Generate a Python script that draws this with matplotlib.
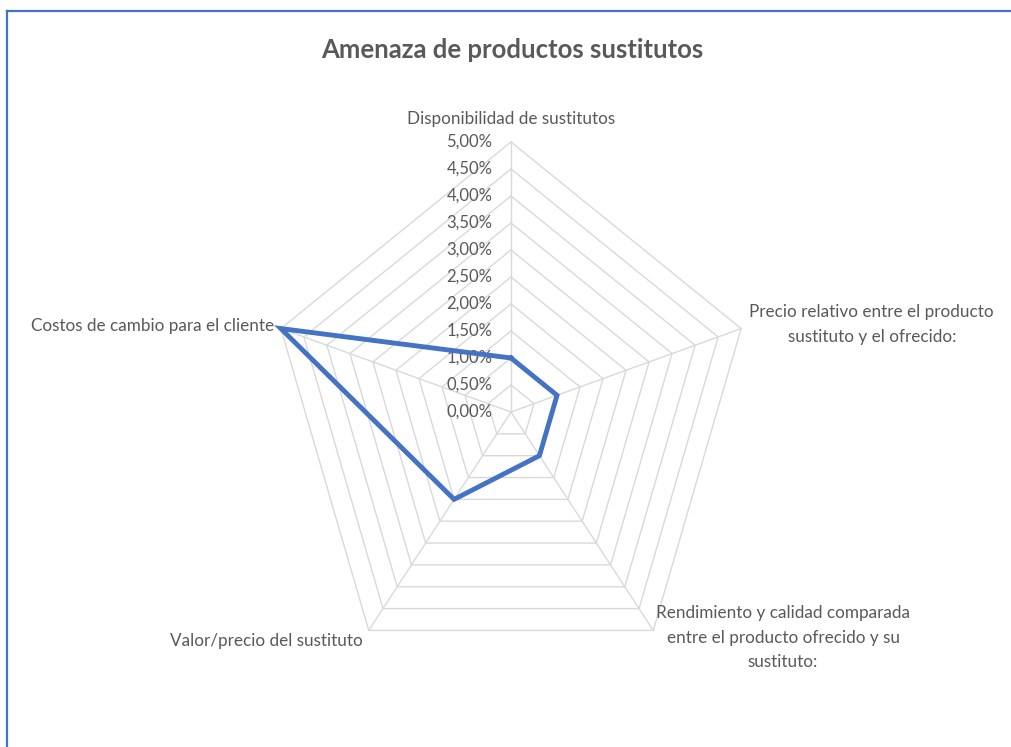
import numpy as np
import matplotlib
matplotlib.use('Agg')
import matplotlib.pyplot as plt
from matplotlib.lines import Line2D

categories = ['Disponibilidad de sustitutos',
              'Precio relativo entre el producto\nsustituto y el ofrecido:',
              'Rendimiento y calidad comparada\nentre el producto ofrecido y su\nsustituto:',
              'Valor/precio del sustituto',
              'Costos de cambio para el cliente']
values = [1.0, 1.0, 1.0, 2.0, 5.0]   # percent
ticks = np.arange(0, 5.01, 0.5)
tick_labels = ['{:.2f}%'.format(t).replace('.', ',') for t in ticks]

plt.rcParams['font.family'] = ['Lato', 'DejaVu Sans']
txt_c = '#595959'
grid_c = '#d9d9d9'
line_c = '#4472C4'

fig = plt.figure(figsize=(10.12, 7.47), dpi=100)
ax = fig.add_axes([0, 0, 1, 1])
# center at pixel (511, 412); 5% -> 242 px horizontally, 270 px vertically
ax.set_xlim(-511 / 48.4, (1012 - 511) / 48.4)
ax.set_ylim((412 - 747) / 54.0, 412 / 54.0)
ax.axis('off')

n = len(categories)
ang = np.pi / 2 - np.arange(n) * 2 * np.pi / n
ca, sa = np.cos(ang), np.sin(ang)

# pentagon rings
for t in ticks[1:]:
    ax.plot(np.r_[t * ca, t * ca[0]], np.r_[t * sa, t * sa[0]], color=grid_c, lw=1, zorder=1)
# spokes
rmax = ticks.max()
for i in range(n):
    ax.plot([0, rmax * ca[i]], [0, rmax * sa[i]], color=grid_c, lw=1, zorder=1)

# tick labels on vertical axis
for t, lab in zip(ticks, tick_labels):
    ax.text(-0.38, t, lab, ha='right', va='center', fontsize=12, color=txt_c, zorder=2)

# data
v = np.array(values)
ax.plot(np.r_[v * ca, v[0] * ca[0]], np.r_[v * sa, v[0] * sa[0]],
        color=line_c, lw=3.5, solid_joinstyle='miter', zorder=3)

# category labels
offs = [((0, 11), 'center', 'bottom'),
        ((6, 3), 'left', 'center'),
        ((2, 18), 'left', 'top'),
        ((-4, -2), 'right', 'top'),
        ((-5, 2), 'right', 'center')]
for i, lab in enumerate(categories):
    (dx, dy), ha, va = offs[i]
    ax.annotate(lab, xy=(rmax * ca[i], rmax * sa[i]), xytext=(dx, dy),
                textcoords='offset points', ha=ha, va=va, multialignment='center',
                fontsize=12.3, color=txt_c, linespacing=1.65)

fig.text(0.506, 0.933, 'Amenaza de productos sustitutos', ha='center', va='center',
         fontsize=18.5, color=txt_c, fontweight='bold')

# outer frame (top and left edges)
fig.add_artist(Line2D([7 / 1012, 1], [1 - 11 / 747, 1 - 11 / 747], color=line_c, lw=1.6))
fig.add_artist(Line2D([7 / 1012, 7 / 1012], [0, 1 - 11 / 747], color=line_c, lw=1.6))

plt.savefig('out.png', dpi=100)
